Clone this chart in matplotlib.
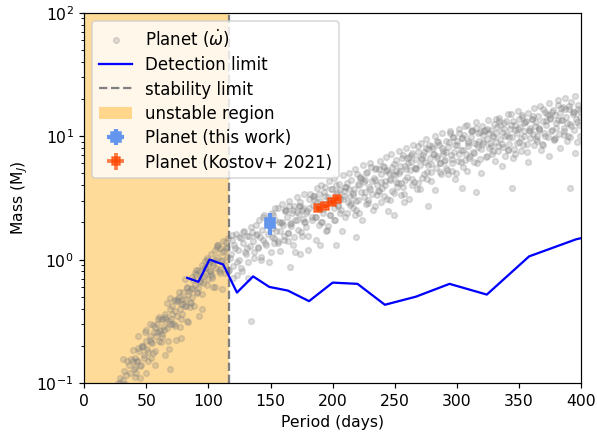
import matplotlib
matplotlib.use("Agg")
import matplotlib.pyplot as plt
from matplotlib.lines import Line2D
from matplotlib.patches import Patch

# ---- gray cloud of planet solutions (period in days, mass in M_J) ----
cloud_period_a = [
    27, 29, 31, 32, 34, 36, 37, 39,
    40, 41, 42, 43, 44, 46, 47, 48, 50, 51, 53, 54,
    55, 56, 57, 58, 59, 60, 61, 62, 63, 64, 65, 67, 68, 69,
    70, 71, 72, 73, 74, 75, 76, 77, 78, 79, 80, 81, 82, 83, 84, 85,
    86, 87, 88, 89, 90, 91, 92, 93, 94, 95, 96, 97, 98, 99, 100, 100.5,
    101, 102, 103, 104, 105, 106, 107, 108, 109, 110, 111, 112, 113, 114, 115, 116, 116.5, 103.5,
    118, 119, 120, 121, 122, 123, 124, 125, 126, 127, 128, 129, 130, 131, 132, 133, 134, 134.5,
    136, 137, 138, 139, 140, 141, 142, 143, 144, 145, 146, 147, 148, 150, 151, 152, 153, 154, 156, 157, 158, 159,
    160, 161, 162, 163, 164, 165, 166, 167, 168, 169, 170, 171, 172, 173, 174, 175, 176, 177, 178, 179, 180, 181, 183, 184,
    185, 186, 187, 188, 189, 190, 191, 192, 193, 194, 195, 196, 197, 198, 199, 200, 201, 202, 203, 204, 205, 206, 207, 208, 209, 210,
    211, 212, 213, 214, 215, 216, 217, 218, 219, 220, 221, 222, 223, 224, 225, 226, 227, 228, 229, 230, 232, 233, 234, 235, 236, 237, 238, 239,
    240, 241, 242, 243, 244, 245, 246, 247, 248, 249, 250, 251, 252, 253, 254, 255, 256, 257, 258, 259, 260, 261, 262, 263, 264, 265, 266, 267, 268, 269,
    270, 271, 272, 273, 274, 275, 276, 277, 278, 279, 280, 281, 282, 283, 284, 285, 286, 287, 288, 289, 290, 291, 292, 293, 294, 295, 296, 297, 298, 299,
    300, 301, 302, 303, 304, 305, 306, 307, 308, 309, 310, 311, 312, 313, 314, 315, 316, 317, 318, 319, 320, 321, 322, 323, 324, 325, 326, 327, 328, 329, 330, 331,
    332, 333, 334, 335, 336, 337, 338, 339, 340, 341, 342, 343, 344, 345, 346, 347, 348, 349, 350, 351, 352, 353, 354, 355, 356, 357, 358, 359, 360, 361, 362, 363,
    364, 365, 366, 367, 368, 369, 370, 371, 372, 373, 374, 375, 376, 377, 378, 379, 380, 381, 382, 383, 384, 385, 386, 387, 388, 389, 390, 391, 392, 393, 394, 395, 396, 397, 398, 399,
    50, 65, 68, 69, 78, 84, 92.5, 166, 174, 190, 203, 219, 249.5, 257, 277, 304, 315, 344, 391,
]
cloud_mass_a = [
    0.10, 0.11, 0.105, 0.125, 0.115, 0.14, 0.12, 0.15,
    0.13, 0.16, 0.12, 0.15, 0.18, 0.14, 0.20, 0.17, 0.22, 0.19, 0.24, 0.16,
    0.21, 0.26, 0.18, 0.24, 0.30, 0.22, 0.27, 0.33, 0.25, 0.29, 0.36, 0.28, 0.32, 0.40,
    0.33, 0.42, 0.30, 0.38, 0.46, 0.35, 0.50, 0.40, 0.44, 0.36, 0.55, 0.48, 0.42, 0.60, 0.52, 0.45,
    0.58, 0.50, 0.68, 0.62, 0.75, 0.55, 0.82, 0.66, 0.72, 0.90, 0.64, 0.85, 0.78, 1.00, 0.70, 0.92,
    0.80, 1.10, 0.74, 0.95, 1.20, 0.86, 1.05, 1.30, 0.78, 0.98, 1.15, 1.40, 0.90, 1.25, 1.05, 1.50, 0.82, 0.60,
    1.10, 1.45, 0.88, 1.30, 1.60, 0.75, 1.20, 1.00, 1.50, 0.80, 1.35, 1.70, 1.10, 1.25, 0.95, 1.55, 0.32, 1.85,
    1.40, 1.15, 1.90, 1.60, 1.25, 2.10, 1.05, 1.75, 1.45, 2.30, 1.30, 1.95, 1.60, 1.15, 2.40, 1.80, 1.50, 2.60, 1.35, 2.00, 1.70, 2.80,
    1.90, 1.45, 2.50, 2.20, 1.65, 3.00, 1.95, 2.40, 1.30, 2.70, 2.10, 3.20, 1.75, 2.35, 2.90, 1.55, 2.60, 3.40, 2.00, 2.45, 1.20, 3.10, 2.20, 2.75,
    3.3, 2.2, 3.8, 2.6, 1.9, 3.0, 4.0, 2.4, 3.5, 2.8, 1.7, 3.2, 4.3, 2.3, 3.7, 2.9, 4.6, 2.1, 3.4, 2.7, 4.1, 3.1, 2.5, 4.8, 3.6, 2.2,
    3.9, 2.9, 5.0, 3.3, 4.4, 2.6, 3.7, 5.4, 3.0, 4.1, 2.4, 4.7, 3.5, 5.8, 3.2, 4.4, 2.8, 5.1, 3.9, 6.0, 3.4, 4.6, 2.7, 5.5, 4.0, 3.6, 6.3, 4.9,
    3.8, 5.6, 4.3, 6.8, 3.1, 5.0, 4.5, 7.2, 3.6, 5.9, 4.8, 6.4, 3.9, 7.6, 5.2, 4.2, 6.7, 3.4, 5.7, 8.0, 4.7, 6.1, 5.3, 7.0, 4.0, 8.4, 5.5, 6.5, 3.7, 7.4,
    5.8, 8.8, 4.6, 7.0, 6.2, 9.5, 5.1, 7.8, 6.6, 4.3, 8.3, 7.2, 10.0, 5.5, 6.9, 8.9, 6.0, 4.9, 10.5, 7.6, 6.4, 9.2, 5.3, 8.1, 11.0, 7.0, 6.0, 9.8, 7.4, 5.0,
    8.5, 6.3, 11.5, 7.7, 9.6, 5.6, 10.2, 7.1, 12.3, 8.3, 6.6, 9.9, 11.0, 7.4, 8.8, 13.0, 6.0, 10.6, 9.1, 7.8, 12.0, 8.6, 10.9, 6.8, 9.5, 13.5, 8.0, 11.3, 7.2, 10.0, 12.6, 9.0,
    11.8, 7.6, 14.0, 9.4, 10.7, 8.2, 12.8, 6.9, 10.2, 15.0, 8.7, 11.4, 9.8, 13.3, 7.9, 12.2, 10.5, 16.0, 9.0, 11.9, 14.4, 8.4, 10.9, 12.9, 7.4, 15.5, 11.1, 9.6, 13.8, 10.3, 16.8, 12.0,
    9.2, 14.6, 11.4, 17.5, 8.6, 13.2, 10.6, 15.8, 12.4, 9.9, 18.5, 13.9, 11.0, 16.4, 9.4, 14.8, 12.8, 19.5, 10.4, 15.3, 13.5, 17.2, 11.7, 20.5, 14.2, 10.1, 16.6, 12.6, 18.8, 15.0, 11.3, 21.0, 13.7, 17.8, 12.2, 16.0,
    0.12, 0.17, 0.19, 0.13, 0.23, 0.31, 0.35, 0.87, 1.10, 1.32, 1.32, 1.53, 2.3, 2.9, 2.7, 3.8, 3.5, 3.8, 3.8,
]
cloud_period_b = [
    28.7, 30.2, 31.7, 33.2, 34.7, 36.2, 37.7, 39.2, 40.7, 42.2, 43.7, 45.2, 46.7, 48.2, 49.7, 51.2, 52.7, 54.2, 55.7, 57.2,
    58.7, 60.2, 61.7, 63.2, 64.7, 66.2, 67.7, 69.2, 70.7, 72.2, 73.7, 75.2, 76.7, 78.2, 79.7, 81.2, 82.7, 84.2, 85.7, 87.2,
    88.7, 90.2, 91.7, 93.2, 94.7, 96.2, 97.7, 99.2, 100.7, 102.2, 103.7, 105.2, 106.7, 108.2, 109.7, 111.2, 112.7, 114.2, 115.7, 117.2,
    118.7, 120.2, 121.7, 123.2, 124.7, 126.2, 127.7, 129.2, 130.7, 132.2, 133.7, 135.2, 136.7, 138.2, 139.7, 141.2, 142.7, 144.2, 145.7, 147.2,
    148.7, 150.2, 151.7, 153.2, 154.7, 156.2, 157.7, 159.2, 160.7, 162.2, 163.7, 165.2, 166.7, 168.2, 169.7, 171.2, 172.7, 174.2, 175.7, 177.2,
    178.7, 180.2, 181.7, 183.2, 184.7, 186.2, 187.7, 189.2, 190.7, 192.2, 193.7, 195.2, 196.7, 198.2, 199.7, 201.2, 202.7, 204.2, 205.7, 207.2,
    208.7, 210.2, 211.7, 213.2, 214.7, 216.2, 217.7, 219.2, 220.7, 222.2, 223.7, 225.2, 226.7, 228.2, 229.7, 231.2, 232.7, 234.2, 235.7, 237.2,
    238.7, 240.2, 241.7, 243.2, 244.7, 246.2, 247.7, 249.2, 250.7, 252.2, 253.7, 255.2, 256.7, 258.2, 259.7, 261.2, 262.7, 264.2, 265.7, 267.2,
    268.7, 270.2, 271.7, 273.2, 274.7, 276.2, 277.7, 279.2, 280.7, 282.2, 283.7, 285.2, 286.7, 288.2, 289.7, 291.2, 292.7, 294.2, 295.7, 297.2,
    298.7, 300.2, 301.7, 303.2, 304.7, 306.2, 307.7, 309.2, 310.7, 312.2, 313.7, 315.2, 316.7, 318.2, 319.7, 321.2, 322.7, 324.2, 325.7, 327.2,
    328.7, 330.2, 331.7, 333.2, 334.7, 336.2, 337.7, 339.2, 340.7, 342.2, 343.7, 345.2, 346.7, 348.2, 349.7, 351.2, 352.7, 354.2, 355.7, 357.2,
    358.7, 360.2, 361.7, 363.2, 364.7, 366.2, 367.7, 369.2, 370.7, 372.2, 373.7, 375.2, 376.7, 378.2, 379.7, 381.2, 382.7, 384.2, 385.7, 387.2,
    388.7, 390.2, 391.7, 393.2, 394.7, 396.2, 397.7, 399.2,
]
cloud_mass_b = [
    0.100, 0.068, 0.155, 0.098, 0.151, 0.072, 0.155, 0.186, 0.112, 0.151, 0.24, 0.110, 0.20, 0.158, 0.27, 0.151, 0.30, 0.214, 0.295, 0.141,
    0.257, 0.34, 0.214, 0.33, 0.27, 0.33, 0.219, 0.49, 0.30, 0.47, 0.224, 0.457, 0.55, 0.33, 0.437, 0.69, 0.316, 0.56, 0.447, 0.72,
    0.417, 0.83, 0.59, 0.81, 0.40, 0.74, 0.98, 0.62, 0.95, 0.76, 0.91, 0.60, 1.32, 0.81, 1.23, 0.575, 1.17, 1.38, 0.81, 1.02,
    1.58, 0.71, 1.23, 0.95, 1.51, 0.85, 1.66, 1.15, 1.55, 0.71, 1.29, 1.66, 1.02, 1.58, 1.26, 1.51, 1.00, 2.19, 1.35, 2.04,
    0.95, 1.95, 2.29, 1.35, 1.70, 2.63, 1.17, 2.00, 1.55, 2.51, 1.41, 2.69, 1.86, 2.51, 1.15, 2.09, 2.69, 1.66, 2.51, 2.00,
    2.40, 1.55, 3.39, 2.09, 3.09, 1.45, 2.95, 3.39, 2.00, 2.57, 3.89, 1.74, 3.02, 2.29, 3.72, 2.09, 3.98, 2.75, 3.63, 1.70,
    3.09, 3.89, 2.40, 3.72, 2.88, 3.47, 2.29, 4.90, 3.02, 4.57, 2.09, 4.27, 5.01, 2.88, 3.72, 5.62, 2.51, 4.37, 3.31, 5.37,
    2.95, 5.75, 3.98, 5.25, 2.45, 4.37, 5.62, 3.47, 5.25, 4.17, 5.01, 3.31, 7.08, 4.37, 6.61, 3.09, 6.17, 7.24, 4.27, 5.37,
    8.32, 3.72, 6.46, 4.90, 7.94, 4.47, 8.51, 5.89, 7.94, 3.63, 6.61, 8.51, 5.13, 7.94, 6.31, 7.41, 4.90, 10.5, 6.46, 9.77,
    4.47, 9.12, 10.5, 6.17, 7.76, 12.0, 5.25, 9.12, 6.92, 11.2, 6.17, 11.7, 8.13, 10.7, 5.01, 8.91, 11.2, 6.92, 10.5, 8.32,
    9.77, 6.31, 13.8, 8.32, 12.3, 5.75, 11.5, 13.2, 7.76, 9.77, 15.1, 6.61, 11.2, 8.71, 13.8, 7.59, 14.8, 10.0, 13.2, 6.17,
    11.0, 13.8, 8.51, 12.9, 10.0, 11.7, 7.76, 16.6, 10.0, 15.1, 6.92, 13.8, 15.8, 9.33, 11.7, 17.8, 7.94, 13.5, 10.2, 16.6,
    9.12, 17.4, 12.0, 15.8, 7.24, 12.9, 16.6, 10.0,
]
cloud_period_c = [
    151.3, 153.8, 156.3, 158.8, 161.3, 163.8, 166.3, 168.8, 171.3, 173.8, 176.3, 178.8, 181.3, 183.8, 186.3, 188.8, 191.3, 193.8, 196.3, 198.8,
    201.3, 203.8, 206.3, 208.8, 211.3, 213.8, 216.3, 218.8, 221.3, 223.8, 226.3, 228.8, 231.3, 233.8, 236.3, 238.8, 241.3, 243.8, 246.3, 248.8,
    251.3, 253.8, 256.3, 258.8, 261.3, 263.8, 266.3, 268.8, 271.3, 273.8, 276.3, 278.8, 281.3, 283.8, 286.3, 288.8, 291.3, 293.8, 296.3, 298.8,
    301.3, 303.8, 306.3, 308.8, 311.3, 313.8, 316.3, 318.8, 321.3, 323.8, 326.3, 328.8, 331.3, 333.8, 336.3, 338.8, 341.3, 343.8, 346.3, 348.8,
    351.3, 353.8, 356.3, 358.8, 361.3, 363.8, 366.3, 368.8, 371.3, 373.8, 376.3, 378.8, 381.3, 383.8, 386.3, 388.8, 391.3, 393.8, 396.3, 398.8,
    41.1, 43.1, 45.1, 47.1, 49.1, 51.1, 53.1, 55.1, 57.1, 59.1, 61.1, 63.1, 65.1, 67.1, 69.1, 71.1, 73.1, 75.1, 77.1, 79.1,
    81.1, 83.1, 85.1, 87.1, 89.1, 91.1, 93.1, 95.1, 97.1, 99.1, 101.1, 103.1, 105.1, 107.1, 109.1, 111.1, 113.1, 115.1,
]
cloud_mass_c = [
    1.53, 2.08, 1.41, 1.96, 2.48, 1.64, 1.99, 1.51, 2.41, 2.72, 2.12, 1.85, 2.62, 3.30, 2.19, 2.58, 2.00, 3.26, 1.88, 3.05,
    2.61, 3.52, 2.39, 3.30, 4.17, 2.76, 3.33, 2.53, 4.02, 4.52, 3.51, 3.05, 4.32, 5.43, 3.59, 4.22, 3.27, 5.31, 3.05, 4.95,
    4.23, 5.73, 3.89, 5.40, 6.82, 4.53, 5.47, 4.17, 6.64, 7.48, 5.83, 5.09, 7.21, 9.10, 6.03, 7.10, 5.52, 8.97, 5.18, 8.41,
    7.14, 9.57, 6.43, 8.81, 11.0, 7.23, 8.63, 6.50, 10.2, 11.4, 8.77, 7.57, 10.6, 13.2, 8.65, 10.1, 7.74, 12.4, 7.10, 11.4,
    9.62, 12.8, 8.57, 11.7, 14.6, 9.51, 11.3, 8.47, 13.3, 14.7, 11.3, 9.73, 13.6, 16.9, 11.0, 12.8, 9.84, 15.8, 8.97, 14.4,
    0.134, 0.191, 0.136, 0.197, 0.261, 0.179, 0.222, 0.174, 0.285, 0.330, 0.264, 0.236, 0.342, 0.443, 0.300, 0.361, 0.288, 0.480, 0.286, 0.481,
    0.424, 0.593, 0.415, 0.593, 0.774, 0.531, 0.665, 0.526, 0.869, 1.02, 0.805, 0.705, 1.00, 1.26, 0.839, 0.989, 0.771, 1.26,
]

# ---- detection limit ----
det_period = [83, 92, 101, 112, 123, 136, 149, 164, 181, 200, 220, 242, 267, 294, 324, 358, 396, 400]
det_mass = [0.71, 0.66, 1.00, 0.91, 0.54, 0.73, 0.60, 0.56, 0.46, 0.65, 0.635, 0.43, 0.50, 0.635, 0.52, 1.06, 1.46, 1.49]

# ---- stability limit ----
stab_period = 116.7

# ---- this work planet ----
tw_period = [149.2]
tw_mass = [1.98]
tw_perr = [3.0]
tw_merr_lo = [0.40]
tw_merr_hi = [0.41]

# ---- Kostov+ 2021 ----
ko_period = [188.5, 194.0, 199.5, 203.5]
ko_mass = [2.60, 2.72, 2.90, 3.10]
ko_perr = [2.0, 2.0, 2.0, 2.0]
ko_merr = [0.12, 0.12, 0.13, 0.14]

fig = plt.figure(figsize=(5.5, 4), dpi=108.6)
ax = fig.add_axes([0.1407, 0.1175, 0.9732 - 0.1407, 0.970 - 0.1175])

cloud_style = dict(ls='none', marker='o', color='gray', alpha=0.25, ms=3.8, zorder=1)
ax.axvspan(0, stab_period, color='orange', alpha=0.4, lw=0, zorder=0)
ax.plot(cloud_period_a, cloud_mass_a, **cloud_style)
ax.plot(cloud_period_b, cloud_mass_b, **cloud_style)
ax.plot(cloud_period_c, cloud_mass_c, **cloud_style)
ax.plot(det_period, det_mass, '-', color='blue', lw=1.5, zorder=3)
ax.axvline(stab_period, color='gray', ls='--', lw=1.5, zorder=2)
ax.errorbar(tw_period, tw_mass, xerr=[tw_perr, tw_perr], yerr=[tw_merr_lo, tw_merr_hi],
            fmt='s', color='cornflowerblue', ms=6, elinewidth=2.8, capsize=0, zorder=4)
ax.errorbar(ko_period, ko_mass, xerr=ko_perr, yerr=ko_merr,
            fmt='s', color='orangered', ms=5.5, elinewidth=2.5, capsize=0, alpha=0.7, zorder=4)

ax.set_yscale('log')
ax.set_xlim(0, 400)
ax.set_ylim(0.1, 100)
ax.set_xlabel('Period (days)', fontsize=10.4)
ax.set_ylabel(r'Mass (M$_J$)', fontsize=10.4)
ax.tick_params(labelsize=10.4)

h_cloud = Line2D([], [], marker='o', ls='none', color='gray', alpha=0.25, ms=3.8)
h_det = Line2D([], [], color='blue', lw=1.5)
h_stab = Line2D([], [], color='gray', ls='--', lw=1.5)
h_uns = Patch(facecolor='orange', alpha=0.4, lw=0)
conts = ax.containers
ax.legend([h_cloud, h_det, h_stab, h_uns, conts[0], conts[1]],
          [r'Planet ($\dot{\omega}$)', 'Detection limit', 'stability limit',
           'unstable region', 'Planet (this work)', 'Planet (Kostov+ 2021)'],
          loc='upper left', fontsize=11, labelspacing=0.38)

fig.savefig('out.png', dpi=108.6)
